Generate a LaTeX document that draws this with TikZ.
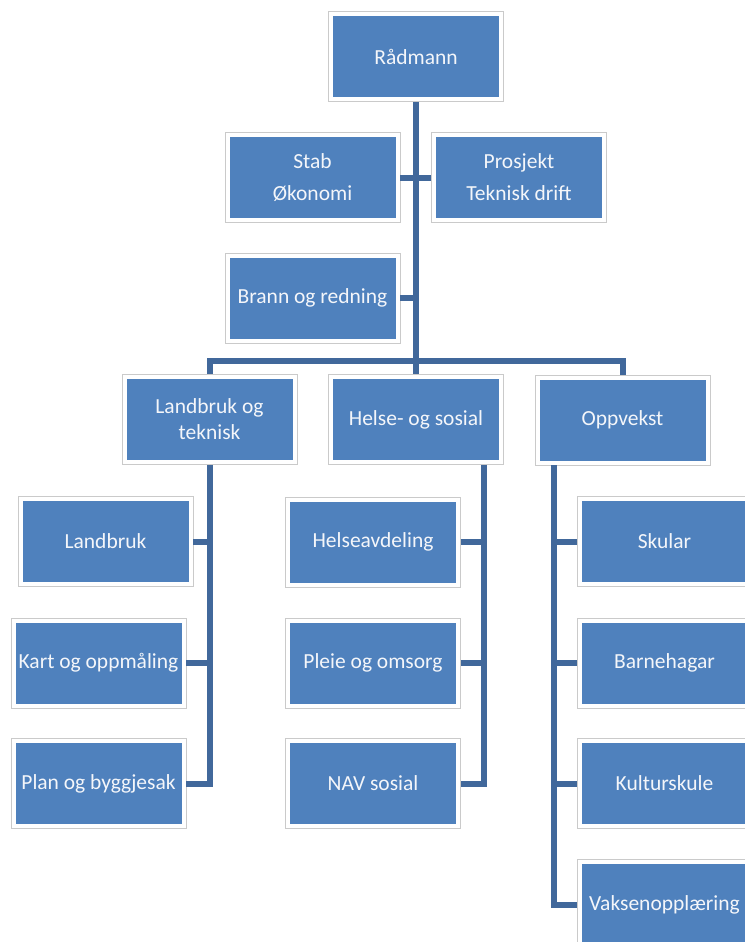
\documentclass[tikz,border=0pt]{standalone}
\usepackage{fontspec}
\setmainfont{Carlito}
\usetikzlibrary{backgrounds}
\definecolor{boxblue}{HTML}{4F81BD}
\definecolor{linkblue}{HTML}{41689B}
\definecolor{framegray}{HTML}{CACACA}
\definecolor{txtcol}{HTML}{F4F6FA}
\tikzset{
  orgbox/.style={rectangle, minimum width=175pt, minimum height=90pt, inner sep=0pt,
    fill=white, draw=framegray, line width=0.8pt, text=txtcol, align=center,
    font=\fontsize{21.5}{26}\selectfont,
    path picture={\fill[boxblue] ([shift={(4.5pt,-4.5pt)}]path picture bounding box.north west)
      rectangle ([shift={(-4.5pt,4.5pt)}]path picture bounding box.south east);}},
  link/.style={draw=linkblue, line width=6pt},
}
\begin{document}
\begin{tikzpicture}[x=1pt,y=-1pt]
\useasboundingbox (0,0) rectangle (744,942);
% top
\node[orgbox] (rad) at (416,56.5) {Rådmann};
\node[orgbox] (stab) at (312.5,177.5) {Stab\\[6pt]Økonomi};
\node[orgbox] (proj) at (519,177.5) {Prosjekt\\[6pt]Teknisk drift};
\node[orgbox] (brann) at (312.5,298) {Brann og redning};
% middle level
\node[orgbox] (lt) at (209.5,419.5) {Landbruk og\\teknisk};
\node[orgbox] (helse) at (416,419.5) {Helse- og sosial};
\node[orgbox] (opp) at (622.5,420) {Oppvekst};
% left column
\node[orgbox] (landbruk) at (105.5,541.5) {Landbruk};
\node[orgbox] (kart) at (98.5,663) {Kart og oppmåling};
\node[orgbox] (plan) at (98.5,783.5) {Plan og byggjesak};
% middle column
\node[orgbox] (helseavd) at (373,542) {Helseavdeling};
\node[orgbox] (pleie) at (373,663) {Pleie og omsorg};
\node[orgbox] (nav) at (373,783.5) {NAV sosial};
% right column
\node[orgbox] (skular) at (664.5,541.5) {Skular};
\node[orgbox] (barne) at (664.5,663) {Barnehagar};
\node[orgbox] (kultur) at (664.5,783.5) {Kulturskule};
\node[orgbox] (vaksen) at (664.5,904.5) {Vaksenopplæring};
% connectors
\coordinate (bus) at (416,361);
\draw[link] (rad.south) -- (helse.north);
\draw[link] (stab.east) -- (stab.east -| rad.south);
\draw[link] (proj.west) -- (proj.west -| rad.south);
\draw[link] (brann.east) -- (brann.east -| rad.south);
\draw[link] (lt.north) |- (bus) -| (opp.north);
% left column links
\draw[link] (lt.south) |- (plan.east);
\draw[link] (landbruk.east) -- (landbruk.east -| lt.south);
\draw[link] (kart.east) -- (kart.east -| lt.south);
% middle column links
\coordinate (hsdrop) at ([xshift=68pt]helse.south);
\draw[link] (hsdrop) |- (nav.east);
\draw[link] (helseavd.east) -- (helseavd.east -| hsdrop);
\draw[link] (pleie.east) -- (pleie.east -| hsdrop);
% right column links
\coordinate (opdrop) at ([xshift=-69pt]opp.south);
\draw[link] (opdrop) |- (vaksen.west);
\draw[link] (skular.west) -- (skular.west -| opdrop);
\draw[link] (barne.west) -- (barne.west -| opdrop);
\draw[link] (kultur.west) -- (kultur.west -| opdrop);
\end{tikzpicture}
\end{document}
